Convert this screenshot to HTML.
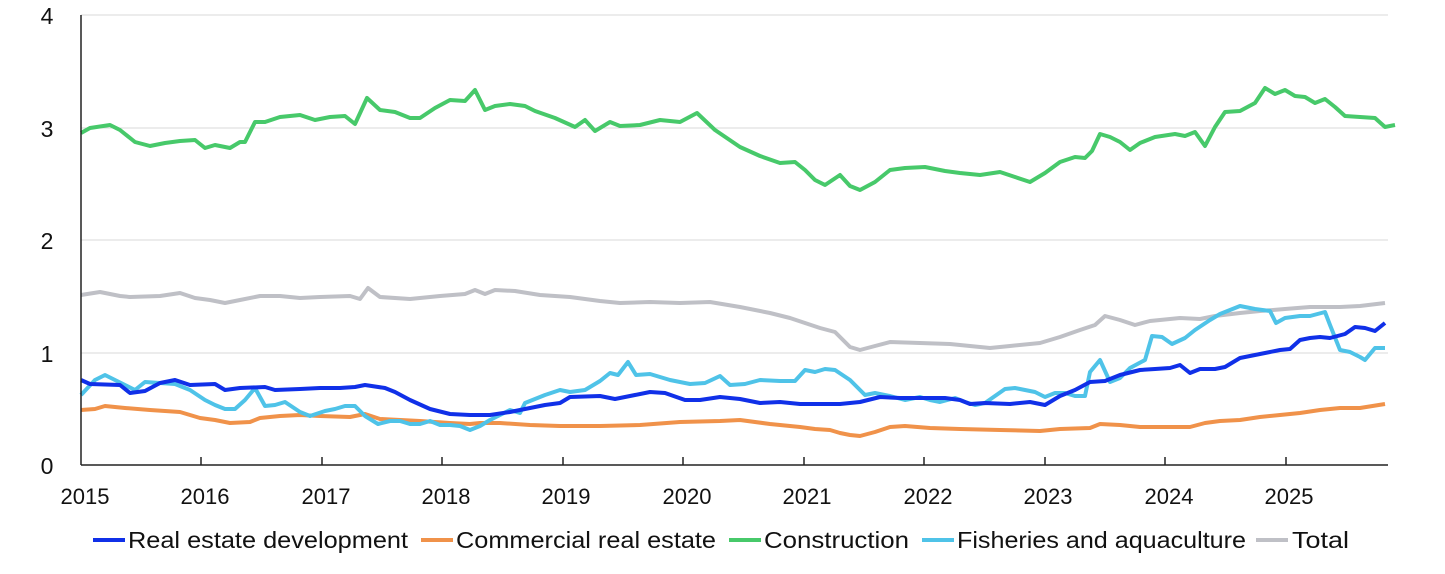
<!DOCTYPE html><html><head><style>body{margin:0;background:#fff}svg text{font-family:"Liberation Sans",sans-serif;fill:#111}</style></head><body>
<svg width="1445" height="569" xmlns="http://www.w3.org/2000/svg">
<g stroke="#d9d9d9" stroke-width="1"><line x1="81" y1="15" x2="1388" y2="15"/><line x1="81" y1="128" x2="1388" y2="128"/><line x1="81" y1="240" x2="1388" y2="240"/><line x1="81" y1="353" x2="1388" y2="353"/></g>
<g font-size="23" text-anchor="middle"><text x="47" y="24">4</text><text x="47" y="137">3</text><text x="47" y="249">2</text><text x="47" y="362">1</text><text x="47" y="474">0</text></g>
<g fill="none" stroke-width="4" stroke-linejoin="round">
<polyline stroke="#bfc0c6" points="81,295 100,292 120,296 130,297 160,296 180,293 195,298 210,300 225,303 240,300 260,296 280,296 300,298 320,297 350,296 360,299 368,288 380,297 410,299 440,296 465,294 475,290 485,294 495,290 515,291 540,295 570,297 600,301 620,303 650,302 680,303 710,302 740,307 770,313 790,318 805,323 820,328 835,332 850,347 860,350 875,346 890,342 920,343 950,344 970,346 990,348 1010,346 1040,343 1060,337 1080,330 1095,325 1105,316 1120,320 1135,325 1150,321 1180,318 1200,319 1215,316 1240,313 1260,311 1285,309 1310,307 1340,307 1360,306 1385,303"/>
<polyline stroke="#f0924a" points="81,410 95,409 105,406 125,408 150,410 180,412 200,418 215,420 230,423 250,422 260,418 280,416 300,415 320,416 350,417 365,414 380,419 420,421 450,423 470,424 480,423 500,423 530,425 560,426 600,426 640,425 680,422 720,421 740,420 770,424 800,427 815,429 830,430 840,433 850,435 860,436 875,432 890,427 905,426 930,428 960,429 1000,430 1040,431 1060,429 1090,428 1100,424 1120,425 1140,427 1165,427 1190,427 1205,423 1220,421 1240,420 1260,417 1280,415 1300,413 1320,410 1340,408 1360,408 1385,404"/>
<polyline stroke="#47c96a" points="81,133 90,128 110,125 120,130 135,142 150,146 165,143 180,141 195,140 205,148 215,145 230,148 240,142 245,142 255,122 265,122 280,117 300,115 315,120 330,117 345,116 355,124 367,98 380,110 395,112 410,118 420,118 435,108 450,100 465,101 475,90 485,110 495,106 510,104 525,106 535,111 555,118 575,127 585,120 595,131 610,122 620,126 640,125 660,120 680,122 697,113 715,130 740,147 760,156 780,163 795,162 805,170 815,180 825,185 840,175 850,186 860,190 875,182 890,170 905,168 925,167 945,171 960,173 980,175 1000,172 1015,177 1030,182 1045,173 1060,162 1075,157 1085,158 1092,151 1100,134 1110,137 1120,142 1130,150 1140,143 1155,137 1175,134 1185,136 1195,132 1205,146 1215,127 1225,112 1240,111 1255,103 1265,88 1275,94 1285,90 1295,96 1305,97 1315,103 1325,99 1335,107 1345,116 1360,117 1375,118 1385,127 1395,125"/>
<polyline stroke="#4fc3e8" points="81,395 95,380 105,375 115,380 125,385 135,390 145,382 160,383 175,384 190,390 205,400 215,405 225,409 235,409 245,400 255,388 265,406 275,405 285,402 300,412 310,416 325,411 335,409 345,406 355,406 365,416 378,424 390,421 400,421 410,424 420,424 430,421 440,425 450,425 460,426 470,430 480,426 490,420 500,415 510,410 520,413 525,403 545,395 560,390 570,392 585,390 600,381 610,373 618,375 628,362 636,375 650,374 670,380 690,384 705,383 720,376 730,385 745,384 760,380 780,381 795,381 805,370 815,372 825,369 835,370 850,380 855,385 865,395 875,393 890,396 905,400 920,397 930,400 940,402 955,398 965,402 975,405 985,403 995,396 1005,389 1015,388 1025,390 1035,392 1045,397 1055,393 1065,393 1075,396 1085,396 1090,372 1100,360 1110,382 1120,378 1130,368 1145,360 1152,336 1162,337 1172,344 1185,338 1195,330 1210,320 1220,314 1230,310 1240,306 1255,309 1270,311 1276,323 1285,318 1300,316 1310,316 1325,312 1330,325 1340,350 1350,352 1360,357 1365,360 1375,348 1385,348"/>
<polyline stroke="#1030e8" points="81,380 90,384 120,385 130,393 145,391 160,383 175,380 190,385 215,384 225,390 240,388 265,387 275,390 300,389 320,388 340,388 355,387 365,385 385,388 395,392 410,400 430,409 450,414 470,415 490,415 510,412 530,408 545,405 560,403 570,397 600,396 615,399 635,395 650,392 665,393 685,400 700,400 720,397 740,399 760,403 780,402 800,404 820,404 840,404 860,402 880,397 900,398 925,398 945,398 960,400 970,404 985,403 1010,404 1030,402 1045,405 1060,396 1075,390 1090,382 1105,381 1120,375 1140,370 1155,369 1170,368 1180,365 1190,373 1200,369 1215,369 1225,367 1240,358 1260,354 1280,350 1290,349 1300,340 1310,338 1320,337 1330,338 1345,334 1355,327 1365,328 1375,331 1385,323"/>
</g>
<g stroke="#222" stroke-width="1.5"><line x1="81" y1="15" x2="81" y2="465"/><line x1="81" y1="465" x2="1388" y2="465"/>
<line x1="201" y1="457" x2="201" y2="465"/><line x1="322" y1="457" x2="322" y2="465"/><line x1="442" y1="457" x2="442" y2="465"/><line x1="563" y1="457" x2="563" y2="465"/><line x1="683" y1="457" x2="683" y2="465"/><line x1="804" y1="457" x2="804" y2="465"/><line x1="924" y1="457" x2="924" y2="465"/><line x1="1045" y1="457" x2="1045" y2="465"/><line x1="1165" y1="457" x2="1165" y2="465"/><line x1="1286" y1="457" x2="1286" y2="465"/></g>
<g font-size="22" text-anchor="middle"><text x="85" y="504">2015</text><text x="205" y="504">2016</text><text x="326" y="504">2017</text><text x="446" y="504">2018</text><text x="566" y="504">2019</text><text x="687" y="504">2020</text><text x="807" y="504">2021</text><text x="928" y="504">2022</text><text x="1048" y="504">2023</text><text x="1169" y="504">2024</text><text x="1289" y="504">2025</text></g>
<g stroke-width="4"><line x1="93" y1="540" x2="125" y2="540" stroke="#1030e8"/><line x1="421" y1="540" x2="453" y2="540" stroke="#f0924a"/><line x1="729" y1="540" x2="761" y2="540" stroke="#47c96a"/><line x1="922" y1="540" x2="954" y2="540" stroke="#4fc3e8"/><line x1="1256" y1="540" x2="1288" y2="540" stroke="#bfc0c6"/></g>
<g font-size="23"><text x="128" y="548" textLength="280" lengthAdjust="spacingAndGlyphs">Real estate development</text><text x="456" y="548" textLength="260" lengthAdjust="spacingAndGlyphs">Commercial real estate</text><text x="764" y="548" textLength="145" lengthAdjust="spacingAndGlyphs">Construction</text><text x="957" y="548" textLength="289" lengthAdjust="spacingAndGlyphs">Fisheries and aquaculture</text><text x="1292" y="548" textLength="57" lengthAdjust="spacingAndGlyphs">Total</text></g>
</svg></body></html>
